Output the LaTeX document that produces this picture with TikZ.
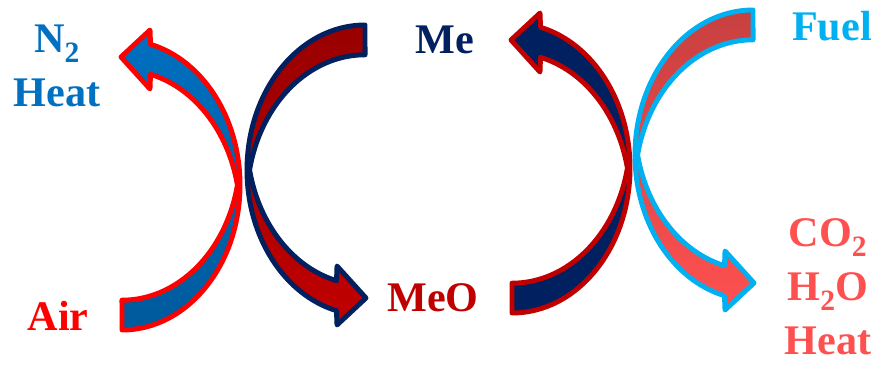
\documentclass[tikz,border=0pt]{standalone}
\usepackage{fontspec}
\setmainfont{Liberation Serif}
\definecolor{nblue}{HTML}{0070C0}
\definecolor{nbluedk}{HTML}{005A9C}
\definecolor{airred}{HTML}{FF0000}
\definecolor{mepurp}{HTML}{002060}
\definecolor{meored}{HTML}{C00000}
\definecolor{meodark}{HTML}{990000}
\definecolor{fuelcyan}{HTML}{00B0F0}
\definecolor{fluered}{HTML}{FF5050}
\definecolor{fluedk}{HTML}{C84040}
\usetikzlibrary{positioning}
\tikzset{
  arrowband/.pic={
    \path[pic actions] (0,-145) arc[start angle=-90, end angle=76, x radius=118, y radius=145]
      -- (28,155) -- (-1,128) -- (28,96) -- (28.5,110.7)
      arc[start angle=76, end angle=11.9, x radius=118, y radius=145]
      arc[start angle=-11.9, end angle=-90, x radius=118, y radius=145] -- cycle;
  },
  band/.style={line width=4.2pt, line join=round},
  lbl/.style={font=\bfseries\fontsize{36}{46}\selectfont, align=center, inner sep=0pt}
}
\begin{document}
\begin{tikzpicture}[x=0.03cm, y=0.03cm]
  \useasboundingbox (0,0) rectangle (875,-364);
  % air reactor side
  \pic[band, draw=airred, top color=nblue, bottom color=nbluedk] (airarrow) at (122,-185) {arrowband};
  \pic[band, draw=mepurp, top color=meodark, bottom color=meored, rotate=180] (oxarrow) at (365,-170) {arrowband};
  % fuel reactor side
  \pic[band, draw=meored, fill=mepurp] (redarrow) at (512,-168) {arrowband};
  \pic[band, draw=fuelcyan, top color=fluedk, bottom color=fluered, rotate=180] (fuelarrow) at (753,-155) {arrowband};
  % labels
  \node[lbl, text=nblue] (nout) at (57,-66) {N\textsubscript{2}\\Heat};
  \node[lbl, text=airred] (air) at (58,-316) {Air};
  \node[lbl, text=mepurp] (me) at (445,-40) {Me};
  \node[lbl, text=meored] (meo) at (433,-298) {MeO};
  \node[lbl, text=fuelcyan] (fuel) at (832,-26) {Fuel};
  \node[lbl, text=fluered] (flue) at (828,-287) {CO\textsubscript{2}\\H\textsubscript{2}O\\Heat};
\end{tikzpicture}
\end{document}
